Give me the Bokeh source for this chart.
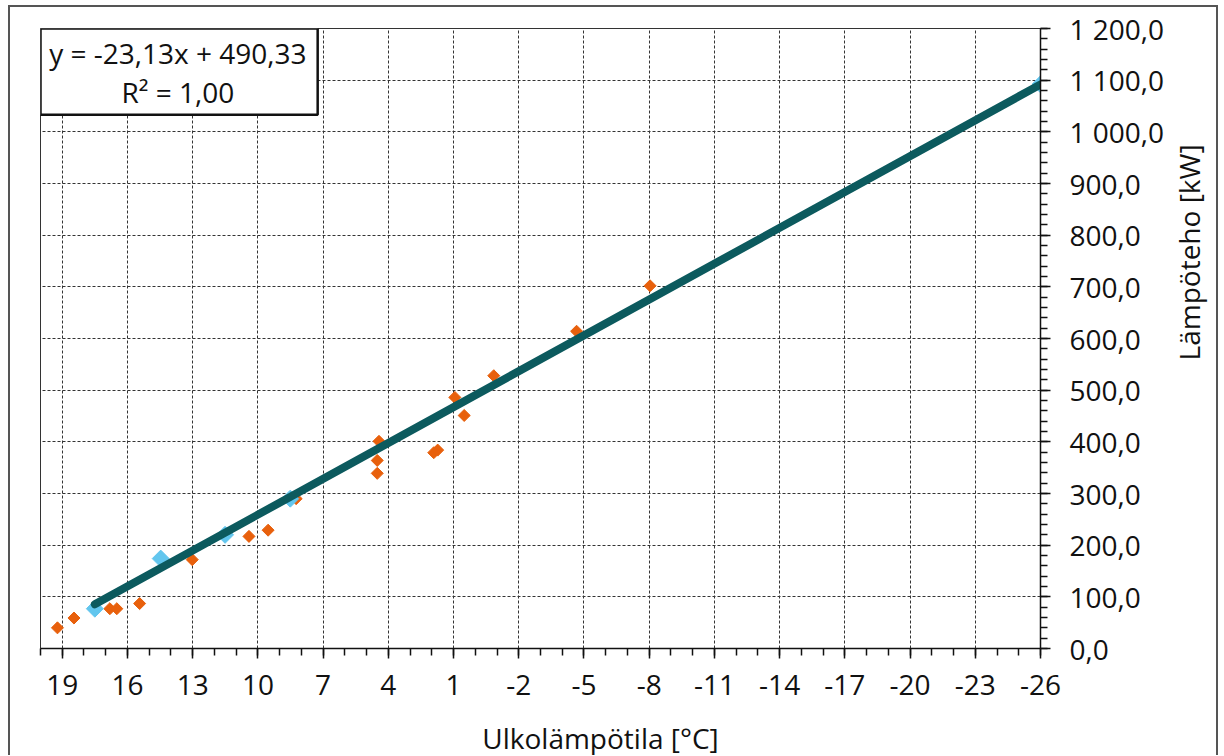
import math
from bokeh.plotting import figure
from bokeh.layouts import row, column
from bokeh.models import Range1d, FixedTicker, BoxAnnotation, Label
from bokeh.embed import file_html
from bokeh.resources import INLINE

# ---- data ----
orange_temp = [19.22, 18.46, 16.81, 16.49, 15.44, 13.02, 10.41, 9.53, 8.24,
               4.43, 4.51, 4.51, 1.91, 1.73, 0.94, 0.51, -0.85, -4.66, -8.04]
orange_power = [40, 59, 77, 77, 87, 172, 217, 229, 290,
                401, 364, 339, 379, 384, 486, 451, 528, 614, 702]
blue_temp = [17.5, 14.47, 11.51, 8.51, -26.0]
blue_power = [77, 174, 220, 290, 1092]
trend_slope = -23.13
trend_intercept = 490.33
x_ticks = list(range(19, -27, -3))
x_minor = list(range(-26, 21))
y_ticks = list(range(0, 1201, 100))
y_minor = list(range(0, 1201, 20))
eq_lines = ["y = -23,13x + 490,33", "R² = 1,00"]
x_title = "Ulkolämpötila [°C]"
y_title = "Lämpöteho [kW]"

FONT = "Open Sans"
TXT = "#111111"
H = 706        # main figure height (page y 7 .. 713)
W = 1158       # main figure width  (page x 10 .. 1168)
SIDE_W = 48    # side strip for the y title
BOT_H = 42     # bottom strip for the x title


def blank_strip(w, h):
    f = figure(width=w, height=h, x_range=Range1d(0, w), y_range=Range1d(0, h),
               x_axis_location=None, y_axis_location=None, output_backend="svg",
               toolbar_location=None, min_border=0)
    f.outline_line_color = None
    f.grid.visible = False
    f.background_fill_color = "white"
    f.border_fill_color = "white"
    return f


p = figure(width=W, height=H, x_range=Range1d(20, -26), y_range=Range1d(0, 1200),
           y_axis_location="right", output_backend="svg", toolbar_location=None,
           min_border_left=30, min_border_right=128, min_border_top=21, min_border_bottom=65)
p.background_fill_color = "white"
p.border_fill_color = "white"
p.outline_line_color = "#333333"
p.outline_line_width = 1

# grid
for g in (p.xgrid, p.ygrid):
    g.grid_line_color = "#333333"
    g.grid_line_dash = "3 2"
    g.grid_line_width = 1

# axes
p.xaxis.ticker = FixedTicker(ticks=x_ticks, minor_ticks=x_minor)
p.yaxis.ticker = FixedTicker(ticks=y_ticks, minor_ticks=y_minor)
p.xaxis.major_label_overrides = {t: str(t) for t in x_ticks}
p.yaxis.major_label_overrides = {t: f"{t:,.1f}".replace(",", " ").replace(".", ",") for t in y_ticks}
for ax in p.axis:
    ax.axis_line_color = TXT
    ax.axis_line_width = 1.5
    ax.major_tick_line_color = TXT
    ax.minor_tick_line_color = TXT
    ax.major_tick_line_width = 1.5
    ax.minor_tick_line_width = 1.5
    ax.major_tick_in = 0
    ax.minor_tick_in = 0
    ax.major_tick_out = 10
    ax.minor_tick_out = 7
    ax.major_label_text_font = FONT
    ax.major_label_text_font_size = "28px"
    ax.major_label_text_color = TXT
p.xaxis.major_label_standoff = 16
p.yaxis.major_label_standoff = 19

# data
p.scatter(orange_temp, orange_power, marker="square", size=8.5, angle=math.pi / 4,
          fill_color="#E8600C", line_color="#E8600C")
p.scatter(blue_temp, blue_power, marker="square", size=12, angle=math.pi / 4,
          fill_color="#62C6EE", line_color="#62C6EE")
tx = [max(blue_temp), min(blue_temp)]
ty = [trend_slope * t + trend_intercept for t in tx]
p.line(tx, ty, line_width=8, line_color="#0C5A5E", line_cap="round")

# equation box
p.add_layout(BoxAnnotation(left=20, right=7.25, top=1200, bottom=1033,
                           fill_color="white", fill_alpha=1.0,
                           line_color=TXT, line_width=2.5, line_alpha=1.0))
p.add_layout(Label(x=13.68, y=1153, text=eq_lines[0], text_align="center", text_baseline="middle",
                   text_font=FONT, text_font_size="28px", text_color=TXT))
p.add_layout(Label(x=13.68, y=1078, text=eq_lines[1], text_align="center", text_baseline="middle",
                   text_font=FONT, text_font_size="28px", text_color=TXT))

# side strip: rotated y axis title
p2 = blank_strip(SIDE_W, H)
p2.add_layout(Label(x=20, y=H - 255, text=y_title, text_align="center", text_baseline="middle",
                    angle=math.pi / 2, text_font=FONT, text_font_size="28px", text_color=TXT))

# bottom strip: x axis title
p3 = blank_strip(W + SIDE_W, BOT_H)
p3.add_layout(Label(x=590, y=BOT_H - 24, text=x_title, text_align="center",
                    text_baseline="middle", text_font=FONT, text_font_size="28px",
                    text_color=TXT))

lay = column(row(p, p2, spacing=0), p3, spacing=0)
lay.margin = (5, 0, 0, 8)
lay.styles = {"border-top": "2px solid #555555", "border-left": "2px solid #555555",
              "border-right": "2px solid #555555"}

open("out.html", "w").write(file_html(lay, INLINE))
